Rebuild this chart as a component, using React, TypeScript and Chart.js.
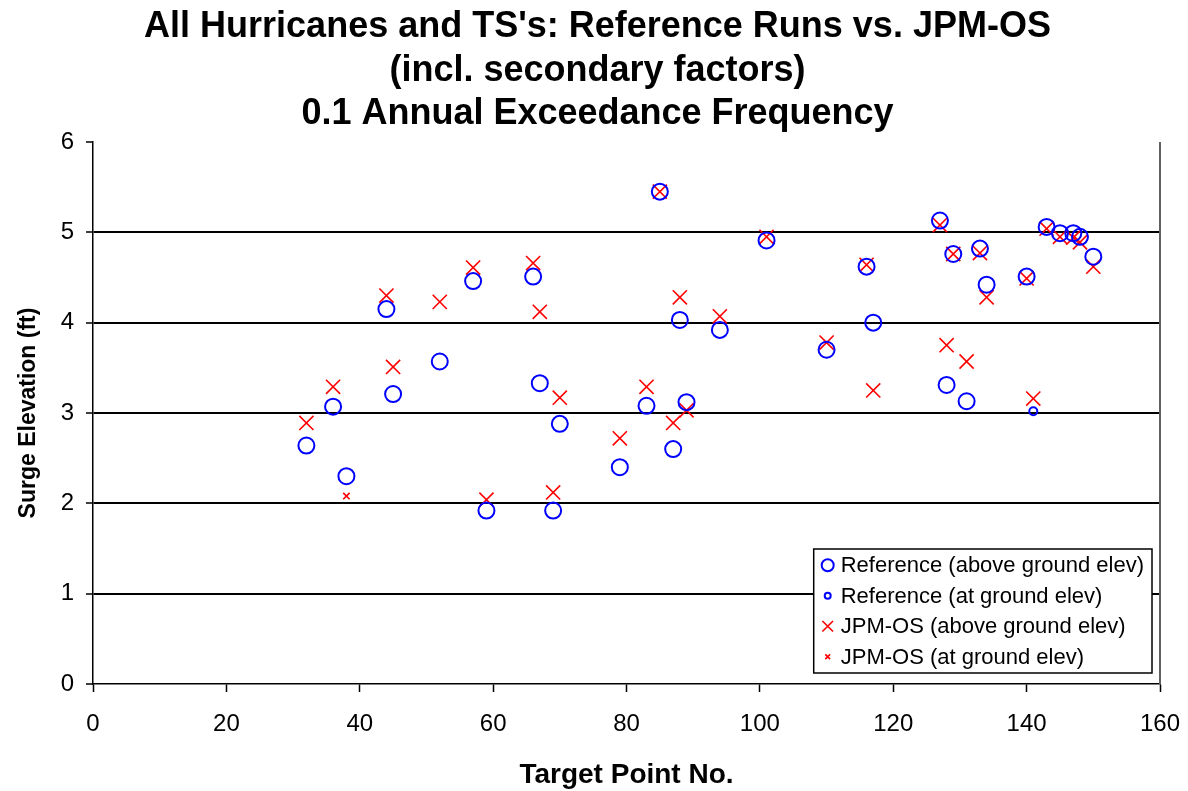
import React, { useEffect, useRef } from "react";
import { Chart, registerables } from "chart.js";

Chart.register(...registerables);

// Target point numbers and surge elevations (ft), 0.1 annual exceedance frequency
const refAboveX = [32, 36, 38, 44, 45, 52, 57, 59, 66, 67, 69, 70, 79, 83, 85, 87, 88, 89, 94, 101, 110, 116, 117, 127, 128, 129, 131, 133, 134, 140, 143, 145, 147, 148, 150];
const refAboveY = [2.64, 3.07, 2.30, 4.15, 3.21, 3.57, 4.46, 1.92, 4.51, 3.33, 1.92, 2.88, 2.40, 3.08, 5.45, 2.60, 4.03, 3.12, 3.92, 4.91, 3.70, 4.62, 4.00, 5.13, 3.31, 4.76, 3.13, 4.82, 4.42, 4.51, 5.06, 4.99, 4.99, 4.95, 4.73];

const refGroundX = [141];
const refGroundY = [3.02];

const jpmAboveX = [32, 36, 44, 45, 52, 57, 59, 66, 67, 69, 70, 79, 83, 85, 87, 88, 89, 94, 101, 110, 116, 117, 127, 128, 129, 131, 133, 134, 140, 141, 143, 145, 147, 148, 150];
const jpmAboveY = [2.89, 3.29, 4.30, 3.51, 4.23, 4.61, 2.04, 4.66, 4.12, 2.12, 3.17, 2.72, 3.29, 5.45, 2.89, 4.28, 3.03, 4.07, 4.95, 3.78, 4.64, 3.25, 5.08, 3.75, 4.76, 3.57, 4.77, 4.28, 4.49, 3.16, 5.04, 4.95, 4.94, 4.89, 4.62];

const jpmGroundX = [38];
const jpmGroundY = [2.08];

const seriesLabels = [
  "Reference (above ground elev)",
  "Reference (at ground elev)",
  "JPM-OS (above ground elev)",
  "JPM-OS (at ground elev)",
];

const titleLines = [
  "All Hurricanes and TS's: Reference Runs vs. JPM-OS",
  "(incl. secondary factors)",
  "0.1 Annual Exceedance Frequency",
];
const xAxisTitle = "Target Point No.";
const yAxisTitle = "Surge Elevation (ft)";

const xTicks = [0, 20, 40, 60, 80, 100, 120, 140, 160];
const yTicks = [0, 1, 2, 3, 4, 5, 6];

const FONT = "'Liberation Sans', Arial, sans-serif";

const toPoints = (xs: number[], ys: number[]) => xs.map((x, i) => ({ x, y: ys[i] }));

// Center the title block slightly right of the canvas middle
const titleOverPlot = {
  id: "titleOverPlot",
  afterLayout(chart: any) {
    const tb = chart.titleBlock;
    if (tb) {
      tb.left = 0;
      tb.right = chart.chartArea.right + 35;
    }
  },
};

// Right-hand edge of the plot area
const plotEdge = {
  id: "plotEdge",
  afterDraw(chart: any) {
    const { ctx, chartArea } = chart;
    ctx.save();
    ctx.strokeStyle = "#606060";
    ctx.lineWidth = 2;
    ctx.beginPath();
    ctx.moveTo(chartArea.right, chartArea.top);
    ctx.lineTo(chartArea.right, chartArea.bottom);
    ctx.stroke();
    ctx.restore();
  },
};

// Boxed legend in the lower right of the plot area
const boxLegend = {
  id: "boxLegend",
  afterDraw(chart: any) {
    const { ctx, chartArea } = chart;
    const rowH = 30.5;
    const padTop = 1;
    const textX = 27;
    const padRight = 8;
    ctx.save();
    ctx.font = `22px ${FONT}`;
    let maxW = 0;
    chart.data.datasets.forEach((ds: any) => {
      maxW = Math.max(maxW, ctx.measureText(ds.label).width);
    });
    const w = textX + maxW + padRight;
    const h = padTop * 2 + rowH * chart.data.datasets.length;
    const right = chartArea.right - 8;
    const bottom = chartArea.bottom - 11;
    const left = right - w;
    const top = bottom - h;
    ctx.fillStyle = "#ffffff";
    ctx.fillRect(left, top, w, h);
    ctx.strokeStyle = "#000000";
    ctx.lineWidth = 1.5;
    ctx.strokeRect(left, top, w, h);
    chart.data.datasets.forEach((ds: any, i: number) => {
      const cy = top + padTop + rowH * i + rowH / 2;
      const cx = left + 14;
      const r = ds.pointRadius * 0.75;
      ctx.strokeStyle = ds.borderColor;
      ctx.lineWidth = ds.borderWidth;
      ctx.beginPath();
      if (ds.pointStyle === "circle") {
        ctx.arc(cx, cy, r, 0, Math.PI * 2);
      } else {
        const d = r * Math.SQRT1_2;
        ctx.moveTo(cx - d, cy - d);
        ctx.lineTo(cx + d, cy + d);
        ctx.moveTo(cx + d, cy - d);
        ctx.lineTo(cx - d, cy + d);
      }
      ctx.stroke();
      ctx.fillStyle = "#000000";
      ctx.textBaseline = "middle";
      ctx.textAlign = "left";
      ctx.fillText(ds.label, left + textX, cy + 1);
    });
    ctx.restore();
  },
};

export default function App() {
  const canvasRef = useRef<HTMLCanvasElement | null>(null);

  useEffect(() => {
    const canvas = canvasRef.current;
    if (!canvas) return;
    const chart = new Chart(canvas, {
      type: "scatter",
      data: {
        datasets: [
          {
            label: seriesLabels[0],
            data: toPoints(refAboveX, refAboveY),
            pointStyle: "circle",
            pointRadius: 8,
            borderColor: "#0000ff",
            backgroundColor: "rgba(0,0,0,0)",
            borderWidth: 2,
          },
          {
            label: seriesLabels[1],
            data: toPoints(refGroundX, refGroundY),
            pointStyle: "circle",
            pointRadius: 4,
            borderColor: "#0000ff",
            backgroundColor: "rgba(0,0,0,0)",
            borderWidth: 2,
          },
          {
            label: seriesLabels[2],
            data: toPoints(jpmAboveX, jpmAboveY),
            pointStyle: "crossRot",
            pointRadius: 10,
            borderColor: "#ff0000",
            backgroundColor: "rgba(0,0,0,0)",
            borderWidth: 1.6,
          },
          {
            label: seriesLabels[3],
            data: toPoints(jpmGroundX, jpmGroundY),
            pointStyle: "crossRot",
            pointRadius: 4.5,
            borderColor: "#ff0000",
            backgroundColor: "rgba(0,0,0,0)",
            borderWidth: 1.6,
          },
        ],
      },
      options: {
        responsive: false,
        animation: false,
        layout: { padding: { left: 0, right: 28, top: 0, bottom: 0 } },
        plugins: {
          legend: { display: false },
          tooltip: { enabled: false },
          title: {
            display: true,
            text: titleLines,
            color: "#000000",
            font: { family: FONT, size: 36, weight: "bold", lineHeight: 1.21 },
            padding: { top: 5.5, bottom: 5.8 },
          },
        },
        scales: {
          x: {
            type: "linear",
            min: 0,
            max: 160,
            afterBuildTicks: (scale: any) => {
              scale.ticks = xTicks.map((v) => ({ value: v }));
            },
            afterFit: (scale: any) => {
              scale.height = 107;
              scale.paddingLeft = 0;
              scale.paddingRight = 0;
            },
            ticks: {
              color: "#000000",
              font: { family: FONT, size: 24 },
              padding: 18,
              maxRotation: 0,
            },
            grid: {
              drawOnChartArea: false,
              drawTicks: true,
              tickLength: 8,
              tickColor: "#000000",
              tickWidth: 1.5,
            },
            border: { display: true, color: "#000000", width: 1.5 },
            title: {
              display: true,
              text: xAxisTitle,
              color: "#000000",
              font: { family: FONT, size: 28, weight: "bold", lineHeight: 1.2 },
              padding: { top: 0, bottom: -1 },
            },
          },
          y: {
            type: "linear",
            min: 0,
            max: 6,
            afterBuildTicks: (scale: any) => {
              scale.ticks = yTicks.map((v) => ({ value: v }));
            },
            afterFit: (scale: any) => {
              scale.width = 93;
              scale.paddingTop = 0;
              scale.paddingBottom = 0;
            },
            ticks: {
              color: "#000000",
              font: { family: FONT, size: 24 },
              padding: 12,
            },
            grid: {
              drawOnChartArea: true,
              drawTicks: true,
              tickLength: 7,
              tickColor: "#000000",
              tickWidth: 1.5,
              lineWidth: 2,
              color: (ctx: any) =>
                ctx.tick && (ctx.tick.value === 0 || ctx.tick.value === 6) ? "rgba(0,0,0,0)" : "#000000",
            },
            border: { display: true, color: "#000000", width: 1.5 },
            title: {
              display: true,
              text: yAxisTitle,
              color: "#000000",
              font: { family: FONT, size: 23, weight: "bold", lineHeight: 1.2 },
              padding: { top: 14.5, bottom: 0 },
            },
          },
        },
      },
      plugins: [titleOverPlot, plotEdge, boxLegend],
    });
    return () => chart.destroy();
  }, []);

  return (
    <div style={{ position: "absolute", left: 0, top: 0, width: 1188, height: 791, background: "#ffffff" }}>
      <canvas ref={canvasRef} width={1188} height={791} style={{ display: "block" }} />
    </div>
  );
}
